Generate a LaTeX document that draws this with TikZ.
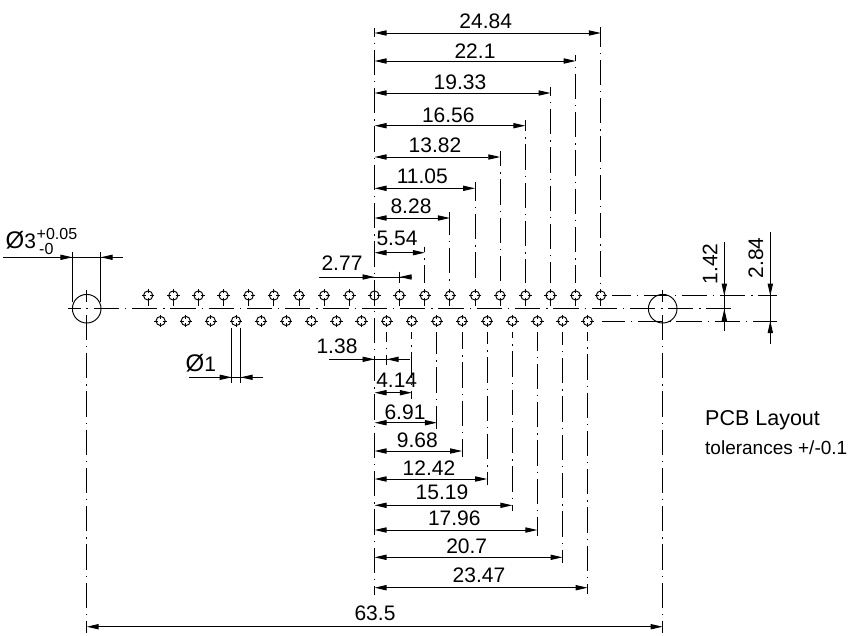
\documentclass[tikz,border=0pt]{standalone}
\usepackage{fontspec}
\setmainfont{Liberation Sans}
\usetikzlibrary{arrows.meta}
\tikzset{
  ln/.style={line width=0.95pt,black},
  cl/.style={line width=0.95pt,black,dash pattern=on 25.3pt off 6pt on 1.3pt off 5.7pt},
  tip/.tip={Triangle[length=12pt,width=5.2pt]},
  dimtxt/.style={inner sep=0pt,font=\fontsize{21}{21}\selectfont},
  hole/.style={line width=0.95pt,black}
}
\newcommand\vext[3]{%
  \pgfmathsetmacro\myL{abs(#3-#2)}%
  \pgfmathsetmacro\myN{floor((\myL+15.3)/38.3)}%
  \pgfmathsetmacro\myE{(\myL-\myN*38.3+25.3)/2}%
  \pgfmathsetmacro\myP{25.3-\myE}%
  \draw[cl,dash phase=\myP pt] (#1,#2)--(#1,#3);}
\newcommand\hext[3]{%
  \pgfmathsetmacro\myL{abs(#3-#2)}%
  \pgfmathsetmacro\myN{floor((\myL+15.3)/38.3)}%
  \pgfmathsetmacro\myE{(\myL-\myN*38.3+25.3)/2}%
  \pgfmathsetmacro\myP{25.3-\myE}%
  \draw[cl,dash phase=\myP pt] (#2,#1)--(#3,#1);}
\newcommand\dia{{\fontsize{24}{24}\selectfont Ø}}
\begin{document}
\begin{tikzpicture}[x=1pt,y=-1pt]
\useasboundingbox (0,0) rectangle (850,635);
% holes, row 1
\foreach \k in {-9,...,9}{
  \pgfmathsetmacro\hx{374.5+25.15*\k}
  \draw[hole] (\hx,295.5) circle (4.6);
  \draw[hole] (\hx-6.2,295.5)--(\hx-2.2,295.5) (\hx+2.2,295.5)--(\hx+6.2,295.5)
     (\hx,289.3)--(\hx,293.3) (\hx,297.7)--(\hx,305.7);
}
% holes, row 2
\foreach \k in {-9,...,8}{
  \pgfmathsetmacro\hx{386.7+25.12*\k}
  \draw[hole] (\hx,321) circle (4.6);
  \draw[hole] (\hx-6.2,321)--(\hx-2.2,321) (\hx+2.2,321)--(\hx+6.2,321)
     (\hx,314.8)--(\hx,318.8) (\hx,323.2)--(\hx,327.2);
}
% big holes
\draw[ln] (86.7,308.7) circle (14.3);
\draw[ln] (662.7,308.7) circle (14.3);
% centre lines
\draw[cl,dash phase=13pt] (68.3,308.7)--(730.7,308.7);
\hext{295.6}{612.3}{776.7}
\hext{321}{601.5}{776.7}
\vext{86.7}{290}{632.7}
\vext{662.7}{290}{632.7}
\vext{374.5}{27.7}{595}
% upper dimensions
\foreach \k/\y/\txt/\tx/\ty in {
  2/252.7/5.54/397/238,
  3/218/8.28/411/206.7,
  4/188.3/11.05/422.3/176,
  5/157/13.82/435/145,
  6/125.7/16.56/448.3/115,
  7/93/19.33/460/82,
  8/61/22.1/475/51,
  9/33/24.84/485.7/21.7}{
  \pgfmathsetmacro\hx{374.5+25.15*\k}
  \vext{\hx}{\y-6}{283}
  \draw[ln,{tip}-{tip}] (374.5,\y)--(\hx,\y);
  \node[dimtxt] (up\k) at (\tx,\ty) {\txt};
}
% 2.77
\vext{399.65}{271.5}{283}
\draw[ln] (319,277)--(412,277);
\draw[ln,-{tip}] (319,277)--(374.5,277);
\draw[ln,-{tip}] (412,277)--(399.65,277);
\node[dimtxt] (up1) at (342,263) {2.77};
% lower dimensions
\foreach \k/\y/\txt/\tx/\ty in {
  1/392.7/4.14/396.7/380,
  2/422.7/6.91/405/412.3,
  3/451/9.68/417.3/440.7,
  4/479/12.42/429/467.7,
  5/505.3/15.19/442/492.3,
  6/530/17.96/454.3/518.3,
  7/557.3/20.7/466.7/546,
  8/587.7/23.47/479/575}{
  \pgfmathsetmacro\hx{386.7+25.12*\k}
  \vext{\hx}{331.5}{\y+6}
  \draw[ln,{tip}-{tip}] (374.5,\y)--(\hx,\y);
  \node[dimtxt] (lo\k) at (\tx,\ty) {\txt};
}
% 1.38
\vext{386.7}{331.5}{365}
\draw[ln] (329,359.3)--(410,359.3);
\draw[ln,-{tip}] (329,359.3)--(374.5,359.3);
\draw[ln,-{tip}] (410,359.3)--(386.7,359.3);
\node[dimtxt] (lo0) at (337,346) {1.38};
% 63.5
\draw[ln,{tip}-{tip}] (86.7,626.7)--(662.7,626.7);
\node[dimtxt] (total) at (375,613.5) {63.5};
% diameter 3
\draw[ln] (72.4,251.7)--(72.4,301.7) (100.7,251.7)--(100.7,301.7);
\draw[ln] (3,257.3)--(123,257.3);
\draw[ln,-{tip}] (3,257.3)--(72.4,257.3);
\draw[ln,-{tip}] (123,257.3)--(100.7,257.3);
\node[dimtxt,anchor=base west] (dia3) at (5.5,248) {\dia 3};
\node[inner sep=0pt,anchor=west,font=\fontsize{16}{16}\selectfont] (plus) at (36.5,234) {+0.05};
\node[inner sep=0pt,anchor=west,font=\fontsize{16}{16}\selectfont] (minus) at (39,249) {-0};
% diameter 1
\draw[ln] (231.7,328)--(231.7,383.3) (240.7,328)--(240.7,383.3);
\draw[ln] (189,377.3)--(263,377.3);
\draw[ln,-{tip}] (189,377.3)--(231.7,377.3);
\draw[ln,-{tip}] (263,377.3)--(240.7,377.3);
\node[dimtxt,anchor=base west] (dia1) at (185.5,371) {\dia 1};
% right dimensions
\draw[ln] (724.3,242)--(724.3,331);
\draw[ln,-{tip}] (724.3,242)--(724.3,295.7);
\draw[ln,-{tip}] (724.3,331)--(724.3,308.9);
\node[dimtxt,rotate=90] (v142) at (710,264) {1.42};
\draw[ln] (770.3,232)--(770.3,344);
\draw[ln,-{tip}] (770.3,232)--(770.3,295.7);
\draw[ln,-{tip}] (770.3,344)--(770.3,321);
\node[dimtxt,rotate=90] (v284) at (756,258) {2.84};
% note
\node[inner sep=0pt,anchor=base west,font=\fontsize{21.5}{21.5}\selectfont] (pcb) at (705,425.7) {PCB Layout};
\node[inner sep=0pt,anchor=base west,font=\fontsize{19}{19}\selectfont] (tol) at (705,454) {tolerances +/-0.1};
\end{tikzpicture}
\end{document}
